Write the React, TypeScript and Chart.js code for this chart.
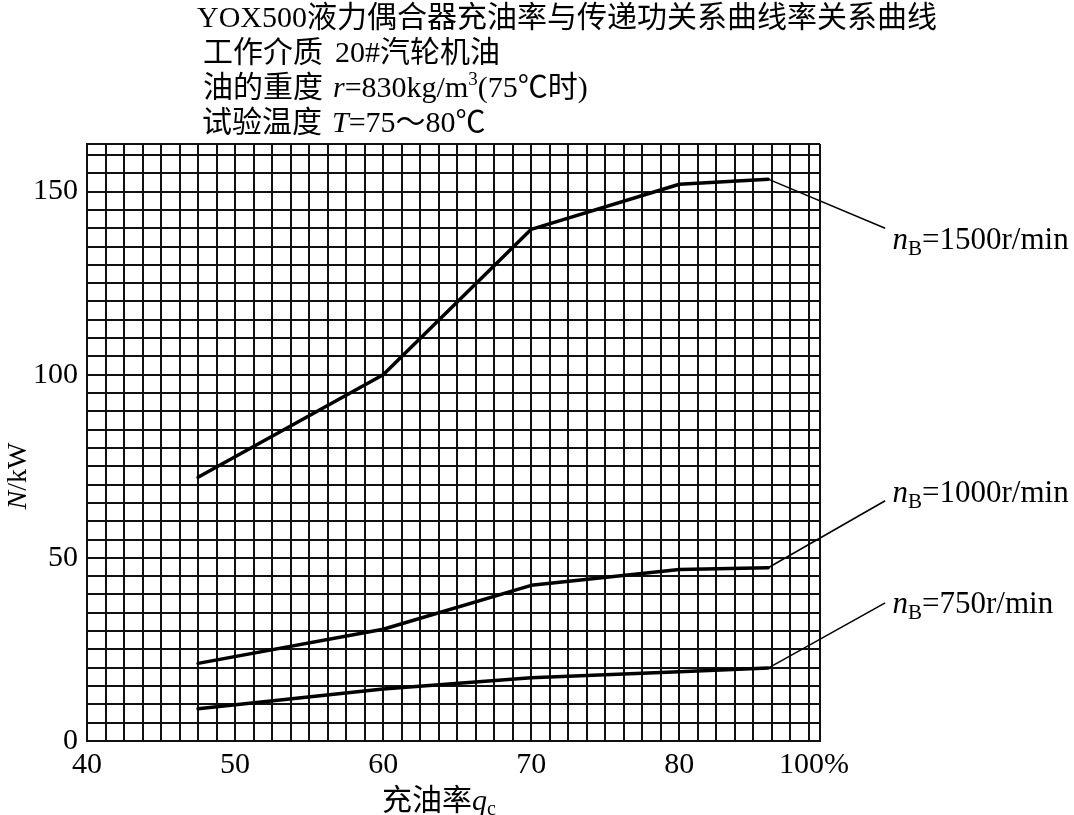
import React, { useEffect, useRef } from 'react';
import { Chart, registerables } from 'chart.js';

Chart.register(...registerables);

// ---- data ----
const fillRates = [47.5, 60, 70, 80, 86];
const power1500 = [72, 100, 139.7, 152, 153.4];
const power1000 = [21.2, 30.5, 42.5, 46.8, 47.3];
const power750 = [8.8, 14.2, 17.3, 18.9, 19.9];
const speedLabels = ['1500', '1000', '750'];
const xTickValues = [40, 50, 60, 70, 80, 89.1];
const xTickLabels = ['40', '50', '60', '70', '80', '100%'];
const yTickValues = [0, 50, 100, 150];
const yTickLabels = ['0', '50', '100', '150'];

// ---- layout / annotation settings ----
const X_MIN = 40;
const X_MAX = 89.5;
const Y_MIN = 0;
const Y_MAX = 163;
const X_GRID_STEP = 1.25;
const Y_GRID_STEP = 5;
const leaderEnds = [
  { x: 93.9, y: 140 },
  { x: 93.9, y: 65.6 },
  { x: 93.9, y: 37.7 },
];
const labelAnchors = [
  { x: 94.4, y: 134.2 },
  { x: 94.4, y: 65.3 },
  { x: 94.4, y: 35.0 },
];

const FONT = '"Liberation Serif", "Times New Roman", "Noto Sans CJK SC", serif';

type Run = { t: string; size: number; italic?: boolean; dy?: number; gap?: number };

function runsWidth(ctx: CanvasRenderingContext2D, runs: Run[]) {
  let w = 0;
  for (const r of runs) {
    w += r.gap || 0;
    ctx.font = `${r.italic ? 'italic ' : ''}${r.size}px ${FONT}`;
    w += ctx.measureText(r.t).width;
  }
  return w;
}

function drawRuns(ctx: CanvasRenderingContext2D, x: number, y: number, runs: Run[]) {
  let cx = x;
  for (const r of runs) {
    cx += r.gap || 0;
    ctx.font = `${r.italic ? 'italic ' : ''}${r.size}px ${FONT}`;
    ctx.fillText(r.t, cx, y + (r.dy || 0));
    cx += ctx.measureText(r.t).width;
  }
  return cx;
}

const annotationPlugin = {
  id: 'annotations',
  afterDraw(chart: any) {
    const ctx: CanvasRenderingContext2D = chart.ctx;
    const xs = chart.scales.x;
    const ys = chart.scales.y;
    ctx.save();
    ctx.fillStyle = '#000';
    ctx.strokeStyle = '#000';
    ctx.textAlign = 'left';
    ctx.textBaseline = 'alphabetic';

    // title block
    drawRuns(ctx, 197, 27, [{ t: 'YOX500液力偶合器充油率与传递功关系曲线率关系曲线', size: 30 }]);
    drawRuns(ctx, 203, 62, [
      { t: '工作介质', size: 30 },
      { t: '20#汽轮机油', size: 30, gap: 12 },
    ]);
    drawRuns(ctx, 203, 97, [
      { t: '油的重度', size: 30 },
      { t: 'r', size: 30, italic: true, gap: 10 },
      { t: '=830kg/m', size: 30 },
      { t: '3', size: 19, dy: -12 },
      { t: '(75℃时)', size: 30 },
    ]);
    drawRuns(ctx, 202, 132, [
      { t: '试验温度', size: 30 },
      { t: 'T', size: 30, italic: true, gap: 10 },
      { t: '=75～80℃', size: 30 },
    ]);

    // y axis title
    const yRuns: Run[] = [
      { t: 'N', size: 28, italic: true },
      { t: '/kW', size: 28 },
    ];
    ctx.save();
    ctx.translate(26, 476);
    ctx.rotate(-Math.PI / 2);
    const yw = runsWidth(ctx, yRuns);
    drawRuns(ctx, -yw / 2, 0, yRuns);
    ctx.restore();

    // x axis title
    drawRuns(ctx, 382, 810, [
      { t: '充油率', size: 30 },
      { t: 'q', size: 30, italic: true },
      { t: 'c', size: 20, dy: 5 },
    ]);

    // leader lines and speed labels
    const series = [power1500, power1000, power750];
    ctx.lineWidth = 1.5;
    series.forEach((vals, i) => {
      const px = xs.getPixelForValue(fillRates[fillRates.length - 1]);
      const py = ys.getPixelForValue(vals[vals.length - 1]);
      const ex = xs.getPixelForValue(leaderEnds[i].x);
      const ey = ys.getPixelForValue(leaderEnds[i].y);
      ctx.beginPath();
      ctx.moveTo(px, py);
      ctx.lineTo(ex, ey);
      ctx.stroke();
      const lx = xs.getPixelForValue(labelAnchors[i].x);
      const ly = ys.getPixelForValue(labelAnchors[i].y);
      drawRuns(ctx, lx, ly, [
        { t: 'n', size: 31, italic: true },
        { t: 'B', size: 21, dy: 6 },
        { t: `=${speedLabels[i]}r/min`, size: 31 },
      ]);
    });
    ctx.restore();
  },
};

function buildGrid(min: number, max: number, step: number, extra: number[] = []) {
  const vals: number[] = [];
  for (let v = min; v < max - 1e-6; v += step) vals.push(Math.round(v * 1000) / 1000);
  vals.push(max);
  return vals.concat(extra).sort((a, b) => a - b);
}

function findLabel(values: number[], labels: string[], v: number) {
  for (let i = 0; i < values.length; i++) if (Math.abs(values[i] - v) < 1e-6) return labels[i];
  return '';
}

export default function App() {
  const canvasRef = useRef<HTMLCanvasElement | null>(null);

  useEffect(() => {
    const canvas = canvasRef.current;
    if (!canvas) return;
    const xGrid = buildGrid(X_MIN, X_MAX, X_GRID_STEP, [xTickValues[xTickValues.length - 1]]);
    const yGrid = buildGrid(Y_MIN, Y_MAX, Y_GRID_STEP);
    const labelOnly = xTickValues[xTickValues.length - 1];
    const mk = (vals: number[]) => fillRates.map((x, i) => ({ x, y: vals[i] }));
    const lineStyle = {
      borderColor: '#000',
      borderWidth: 3.5,
      pointRadius: 0,
      fill: false,
      tension: 0,
      borderJoinStyle: 'round' as const,
      borderCapStyle: 'round' as const,
    };
    const chart = new Chart(canvas, {
      type: 'line',
      data: {
        datasets: [
          { label: 'nB=1500r/min', data: mk(power1500), ...lineStyle },
          { label: 'nB=1000r/min', data: mk(power1000), ...lineStyle },
          { label: 'nB=750r/min', data: mk(power750), ...lineStyle },
        ],
      },
      options: {
        responsive: false,
        animation: false,
        devicePixelRatio: 1,
        layout: { padding: { left: 0, right: 254, top: 144, bottom: 0 } },
        plugins: {
          legend: { display: false },
          tooltip: { enabled: false },
          title: { display: false },
        },
        scales: {
          x: {
            type: 'linear',
            min: X_MIN,
            max: X_MAX,
            afterBuildTicks: (s: any) => {
              s.ticks = xGrid.map((v) => ({ value: v }));
            },
            afterFit: (s: any) => {
              s.height = 74;
            },
            grid: {
              color: (c: any) =>
                c.tick && Math.abs(c.tick.value - labelOnly) < 1e-6 ? 'rgba(0,0,0,0)' : '#111',
              lineWidth: 2,
              drawTicks: false,
            },
            border: { display: true, color: '#111', width: 2 },
            ticks: {
              autoSkip: false,
              maxRotation: 0,
              minRotation: 0,
              padding: 6,
              color: '#000',
              font: { family: FONT, size: 30 },
              callback: (v: any) => findLabel(xTickValues, xTickLabels, Number(v)),
            },
          },
          y: {
            type: 'linear',
            min: Y_MIN,
            max: Y_MAX,
            afterBuildTicks: (s: any) => {
              s.ticks = yGrid.map((v) => ({ value: v }));
            },
            afterFit: (s: any) => {
              s.width = 87;
            },
            grid: { color: '#111', lineWidth: 2, drawTicks: false },
            border: { display: true, color: '#111', width: 2 },
            ticks: {
              autoSkip: false,
              padding: 9,
              color: '#000',
              font: { family: FONT, size: 30 },
              callback: (v: any) => findLabel(yTickValues, yTickLabels, Number(v)),
            },
          },
        },
      },
      plugins: [annotationPlugin],
    } as any);
    return () => chart.destroy();
  }, []);

  return (
    <div style={{ position: 'absolute', left: 0, top: 0, width: 1074, height: 815, background: '#fff' }}>
      <canvas ref={canvasRef} width={1074} height={815} style={{ display: 'block' }} />
    </div>
  );
}
